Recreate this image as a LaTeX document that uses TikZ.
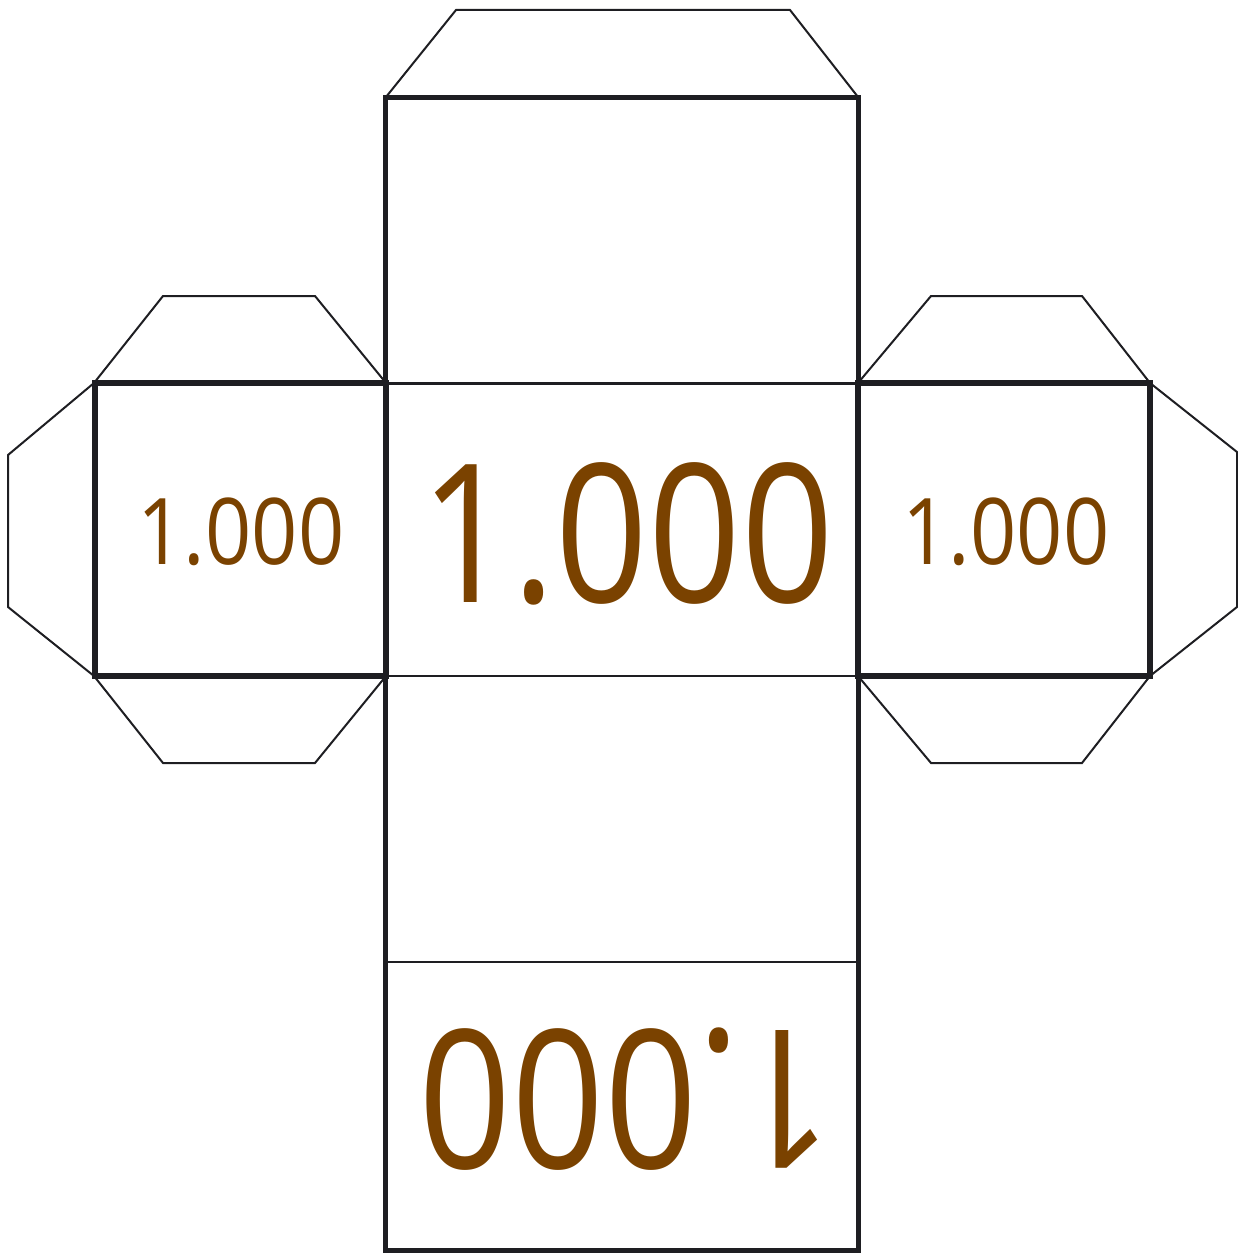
\documentclass[tikz,border=0pt]{standalone}
\usepackage{fontspec}
\setmainfont{Open Sans}
\definecolor{numbrown}{RGB}{122,66,0}
\definecolor{edge}{RGB}{30,30,34}
\tikzset{
  flap/.style={draw=edge, line width=2pt, line join=miter},
  thinline/.style={draw=edge, line width=2.5pt},
  outerbox/.style={draw=edge, line width=5pt},
  sidebox/.style={draw=edge, line width=6pt},
  bignum/.style={text=numbrown, inner sep=0pt, font=\fontsize{193}{200}\selectfont, xscale=0.84, transform shape},
  smallnum/.style={text=numbrown, inner sep=0pt, font=\fontsize{92}{95}\selectfont, xscale=0.88, transform shape},
}
\begin{document}
\begin{tikzpicture}[x=1pt,y=-1pt]
\useasboundingbox (0,0) rectangle (1237,1255);
% flaps
\draw[flap] (386,97) -- (456,10) -- (790,10) -- (858,97);
\draw[flap] (94,383) -- (163,296) -- (315,296) -- (386,383);
\draw[flap] (94,383) -- (8,455) -- (8,607) -- (94,676);
\draw[flap] (94,676) -- (163,763) -- (315,763) -- (386,676);
\draw[flap] (858,383) -- (931,296) -- (1082,296) -- (1150,383);
\draw[flap] (1150,383) -- (1237,452) -- (1237,607) -- (1150,676);
\draw[flap] (858,676) -- (931,763) -- (1082,763) -- (1150,676);
% inner fold lines of column
\draw[thinline] (386,383.5) -- (858,383.5);
\draw[thinline] (386,676) -- (858,676);
\draw[thinline] (386,962) -- (858,962);
% side squares
\draw[sidebox] (95,383) rectangle (386,676);
\draw[sidebox] (858,383) rectangle (1150,676);
% column outline
\draw[outerbox] (385.5,97) rectangle (858,1250);
% numbers
\node[bignum] (center) at (627,534) {1.000};
\node[smallnum] (left) at (241,532) {1.000};
\node[smallnum] (right) at (1006,532) {1.000};
\node[bignum, rotate=180] (bottom) at (626,1099) {1.000};
\end{tikzpicture}
\end{document}
